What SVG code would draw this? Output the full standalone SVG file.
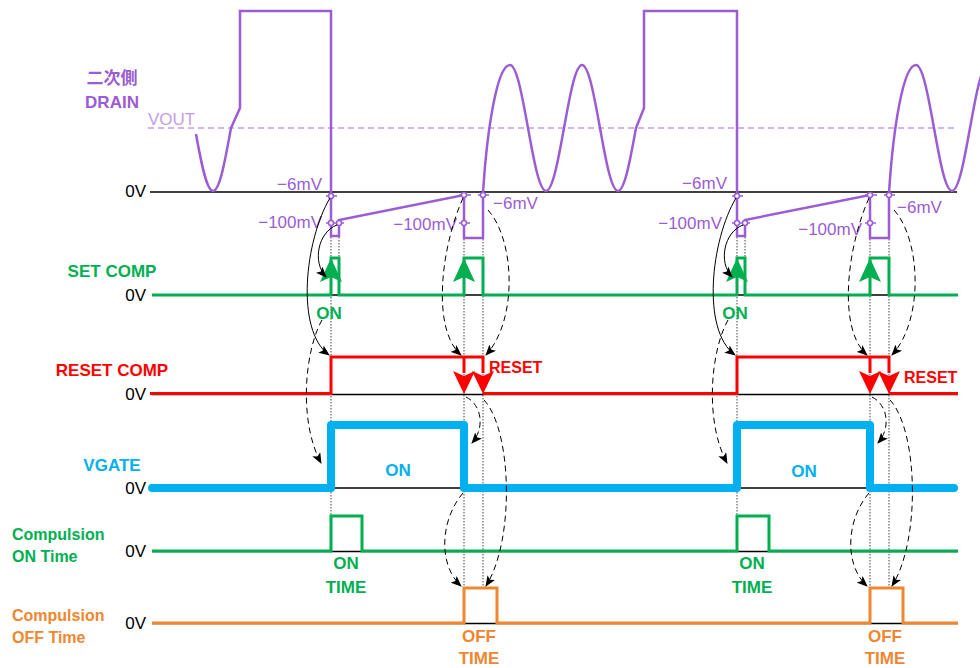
<svg xmlns="http://www.w3.org/2000/svg" width="980" height="668" viewBox="0 0 980 668">
<defs>
<marker id="ah" markerWidth="11" markerHeight="9" refX="10" refY="4.5" orient="auto" markerUnits="userSpaceOnUse">
<path d="M0,0 L11,4.5 L0,9 L2.5,4.5 z" fill="#000"/>
</marker>
</defs>
<style>
text{font-family:"Liberation Sans",Arial,"Noto Sans CJK JP",sans-serif;}
.b{font-weight:bold;font-size:17px;}
.r{font-size:17px;}
.pu{fill:#9B5CD4;}
.lpu{fill:#C79CE8;}
.gr{fill:#00B050;}
.rd{fill:#FF0000;}
.cy{fill:#00B0F0;}
.or{fill:#F0862F;}
.zero{stroke:#000;stroke-width:1.5;fill:none;}
.dot{stroke:#444;stroke-width:1;stroke-dasharray:1.5 1.5;fill:none;}
.mk{fill:#fff;stroke:#9B5CD4;stroke-width:1.5;}
.tick{stroke:#9B5CD4;stroke-width:1.5;}
.con{stroke:#000;stroke-width:1;fill:none;marker-end:url(#ah);}
.dash{stroke-dasharray:6 4;}
</style>
<rect width="980" height="668" fill="#fff"/>

<g id="labels">
<text class="b pu" x="112" y="84" text-anchor="middle">二次側</text>
<text class="b pu" x="112" y="108" text-anchor="middle">DRAIN</text>
<text class="r lpu" x="148" y="125">VOUT</text>
<text class="r" x="146" y="197" text-anchor="end">0V</text>
<text class="b gr" x="112" y="277" text-anchor="middle">SET COMP</text>
<text class="r" x="146" y="301" text-anchor="end">0V</text>
<text class="b rd" x="112" y="376" text-anchor="middle">RESET COMP</text>
<text class="r" x="146" y="400" text-anchor="end">0V</text>
<text class="b cy" x="112" y="471" text-anchor="middle">VGATE</text>
<text class="r" x="146" y="494" text-anchor="end">0V</text>
<text class="b gr" x="12" y="540" style="font-size:16px">Compulsion</text>
<text class="b gr" x="12" y="562" style="font-size:16px">ON Time</text>
<text class="r" x="146" y="557" text-anchor="end">0V</text>
<text class="b or" x="12" y="621" style="font-size:16px">Compulsion</text>
<text class="b or" x="12" y="643" style="font-size:16px">OFF Time</text>
<text class="r" x="146" y="629" text-anchor="end">0V</text>
</g>

<g id="baselines">
<line class="zero" x1="150" y1="192" x2="957" y2="192"/>
<line class="zero" x1="152" y1="295" x2="958" y2="295"/>
<line class="zero" x1="152" y1="394.5" x2="958" y2="394.5"/>
<line class="zero" x1="152" y1="488" x2="958" y2="488"/>
<line class="zero" x1="152" y1="551.5" x2="958" y2="551.5"/>
<line class="zero" x1="152" y1="623.5" x2="958" y2="623.5"/>
<line x1="148" y1="128" x2="958" y2="128" stroke="#C79CE8" stroke-width="1.5" stroke-dasharray="6 4"/>
</g>

<g id="dotted">
<line class="dot" x1="331" y1="237" x2="331" y2="516"/>
<line class="dot" x1="339" y1="237" x2="339" y2="258"/>
<line class="dot" x1="464" y1="239" x2="464" y2="588"/>
<line class="dot" x1="483" y1="239" x2="483" y2="588"/>
<line class="dot" x1="737" y1="237" x2="737" y2="516"/>
<line class="dot" x1="745" y1="237" x2="745" y2="258"/>
<line class="dot" x1="870" y1="239" x2="870" y2="588"/>
<line class="dot" x1="889" y1="239" x2="889" y2="588"/>
</g>

<g id="drain">
<path d="M196,134 C201,162 206.5,191 213,191 C219.7,191 225.3,159.5 231,128 L240,108 V11 H331 V236 H339 V220 L464,195 V238 H483 V193 C487,130 497,65 510,65 C523.3,65 532.7,191 546,191 C559.3,191 568.7,65 582,65 C595.3,65 604.7,191 618,191 C624.6,191 630.3,159.5 636,128 L644,108 V11 H737 V236 H745 V220 L870,195 V238 H889 V193 C893,130 903,65 916,65 C929.3,65 938.7,191 952,191 C965.3,191 974.7,65 988,65" fill="none" stroke="#9B5CD4" stroke-width="2.5" stroke-linejoin="miter"/>
<g class="tick">
<line x1="326" y1="196" x2="337" y2="196"/>
<line x1="326" y1="223" x2="344" y2="223"/>
<line x1="459" y1="195" x2="471" y2="195"/>
<line x1="459" y1="223" x2="470" y2="223"/>
<line x1="478" y1="195" x2="489" y2="195"/>
<line x1="732" y1="196" x2="743" y2="196"/>
<line x1="732" y1="223" x2="750" y2="223"/>
<line x1="865" y1="195" x2="877" y2="195"/>
<line x1="865" y1="223" x2="876" y2="223"/>
<line x1="884" y1="195" x2="895" y2="195"/>
</g>
<circle class="mk" cx="331" cy="196" r="2.5"/>
<circle class="mk" cx="331" cy="223" r="2.5"/>
<circle class="mk" cx="339" cy="223" r="2.5"/>
<circle class="mk" cx="464" cy="195" r="2.5"/>
<circle class="mk" cx="464" cy="223" r="2.5"/>
<circle class="mk" cx="483" cy="195" r="2.5"/>
<circle class="mk" cx="737" cy="196" r="2.5"/>
<circle class="mk" cx="737" cy="223" r="2.5"/>
<circle class="mk" cx="745" cy="223" r="2.5"/>
<circle class="mk" cx="870" cy="195" r="2.5"/>
<circle class="mk" cx="870" cy="223" r="2.5"/>
<circle class="mk" cx="889" cy="195" r="2.5"/>
<text class="r pu" x="322" y="190" text-anchor="end">−6mV</text>
<text class="r pu" x="322" y="228" text-anchor="end">−100mV</text>
<text class="r pu" x="457" y="230" text-anchor="end">−100mV</text>
<text class="r pu" x="493" y="209">−6mV</text>
<text class="r pu" x="727" y="189" text-anchor="end">−6mV</text>
<text class="r pu" x="722" y="229" text-anchor="end">−100mV</text>
<text class="r pu" x="862" y="235" text-anchor="end">−100mV</text>
<text class="r pu" x="897" y="213">−6mV</text>
</g>

<g id="set-comp">
<path d="M152,295 H331 V258 H339 V295 H464 V258 H483 V295 H737 V258 H745 V295 H870 V258 H889 V295 H958" fill="none" stroke="#00B050" stroke-width="3"/>
<polygon points="331,258 320,282 331,277 342,282" fill="#00B050"/>
<polygon points="464,258 453,282 464,277 475,282" fill="#00B050"/>
<polygon points="737,258 726,282 737,277 748,282" fill="#00B050"/>
<polygon points="870,258 859,282 870,277 881,282" fill="#00B050"/>
<text class="b gr" x="329" y="319" text-anchor="middle">ON</text>
<text class="b gr" x="735" y="319" text-anchor="middle">ON</text>
</g>

<g id="reset-comp" fill="none" stroke="#FF0000" stroke-width="3">
<path d="M150,393.5 H331 V357 H483 V373"/>
<path d="M464,357 V373"/>
<path d="M483,393.5 H737 V357 H889 V373"/>
<path d="M870,357 V373"/>
<path d="M889,393.5 H958"/>
<g stroke="none" fill="#FF0000">
<polygon points="464,394 453,371 464,376 475,371"/>
<polygon points="483,394 472,371 483,376 494,371"/>
<polygon points="870,394 859,371 870,376 881,371"/>
<polygon points="889,394 878,371 889,376 900,371"/>
</g>
<text class="b rd" x="489" y="373" stroke="none" style="font-size:16px">RESET</text>
<text class="b rd" x="904" y="383" stroke="none" style="font-size:16px">RESET</text>
</g>

<g id="vgate">
<path d="M152,488 H331 V425 H464 V488 H737 V425 H870 V488 H954" fill="none" stroke="#00B0F0" stroke-width="8" stroke-linejoin="round" stroke-linecap="round"/>
<text class="b cy" x="398" y="476" text-anchor="middle">ON</text>
<text class="b cy" x="804" y="477" text-anchor="middle">ON</text>
</g>

<g id="comp-on">
<path d="M152,551 H331 V516 H362 V551 H737 V516 H769 V551 H958" fill="none" stroke="#00B050" stroke-width="3"/>
<text class="b gr" x="346" y="569" text-anchor="middle">ON</text>
<text class="b gr" x="346" y="593" text-anchor="middle">TIME</text>
<text class="b gr" x="752" y="569" text-anchor="middle">ON</text>
<text class="b gr" x="752" y="593" text-anchor="middle">TIME</text>
</g>

<g id="comp-off">
<path d="M152,623 H464 V588 H497 V623 H870 V588 H903 V623 H958" fill="none" stroke="#F0862F" stroke-width="3"/>
<text class="b or" x="479" y="642" text-anchor="middle">OFF</text>
<text class="b or" x="479" y="664" text-anchor="middle">TIME</text>
<text class="b or" x="885" y="642" text-anchor="middle">OFF</text>
<text class="b or" x="885" y="664" text-anchor="middle">TIME</text>
</g>

<g id="connectors">
<path class="con" d="M337,225 C318,232 312,262 326,277"/>
<path class="con" d="M330,198 C305,240 295,330 329,355"/>
<path class="con dash" d="M322,320 C305,350 298,420 321,463"/>
<path class="con dash" d="M463,198 C440,250 432,330 461,355"/>
<path class="con dash" d="M488,210 C515,240 518,320 486,355"/>
<path class="con dash" d="M466,397 C482,405 485,428 472,443"/>
<path class="con dash" d="M484,400 C512,430 515,540 486,586"/>
<path class="con dash" d="M463,493 C440,520 438,565 461,586"/>

<path class="con" d="M743,225 C724,232 718,262 732,277"/>
<path class="con" d="M736,198 C711,240 701,330 735,355"/>
<path class="con dash" d="M728,320 C711,350 704,420 727,463"/>
<path class="con dash" d="M869,198 C846,250 838,330 867,355"/>
<path class="con dash" d="M894,210 C921,240 924,320 892,355"/>
<path class="con dash" d="M872,397 C888,405 891,428 878,443"/>
<path class="con dash" d="M890,400 C918,430 921,540 892,586"/>
<path class="con dash" d="M869,493 C846,520 844,565 867,586"/>
</g>
</svg>
